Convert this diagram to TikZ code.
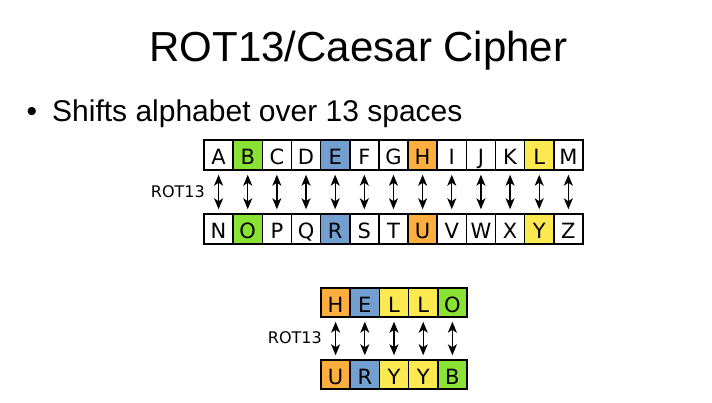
\documentclass[tikz,border=0pt]{standalone}
\usepackage{fontspec}
\setmainfont{Liberation Sans}
\newfontfamily\boxfont{DejaVu Sans}
\usetikzlibrary{arrows.meta}
\definecolor{tgreen}{HTML}{8AE234}
\definecolor{tblue}{HTML}{729FCF}
\definecolor{torange}{HTML}{FCAF3E}
\definecolor{tyellow}{HTML}{FCE94F}
\tikzset{
  cell/.style={draw=black, line width=1.5pt, minimum width=29.15pt, minimum height=30pt,
    inner sep=0pt, text height=20pt, text depth=0pt, font=\boxfont\fontsize{21}{21}\selectfont},
  swap/.style={{Stealth[length=11pt,width=9pt,inset=3pt]}-{Stealth[length=11pt,width=9pt,inset=3pt]}, line width=1.3pt, shorten <=4pt, shorten >=4pt},
  rotlabel/.style={font=\boxfont\fontsize{16}{16}\selectfont, inner sep=0pt, anchor=east}
}
\begin{document}
\begin{tikzpicture}[x=1pt,y=-1pt]
\useasboundingbox (0,0) rectangle (712,403);
\node[font=\fontsize{42}{42}\selectfont, anchor=base] (title) at (358.5,62) {ROT13/Caesar Cipher};
\node[font=\fontsize{30}{30}\selectfont, anchor=base west, inner sep=0pt] (bullet) at (52,122) {Shifts alphabet over 13 spaces};
\node[font=\fontsize{30}{30}\selectfont, anchor=base, inner sep=0pt] (dot) at (32,122) {•};
% alphabet rows
\foreach \t/\b/\c [count=\i from 0] in {A/N/white,B/O/tgreen,C/P/white,D/Q/white,E/R/tblue,F/S/white,G/T/white,H/U/torange,I/V/white,J/W/white,K/X/white,L/Y/tyellow,M/Z/white}{
  \node[cell, fill=\c] (t\i) at ({204+29.15*(\i+0.5)},155) {\t};
  \node[cell, fill=\c] (b\i) at ({204+29.15*(\i+0.5)},229) {\b};
}
\foreach \i in {0,...,12}{
  \draw[swap] (t\i.south) -- (b\i.north);
}
\node[rotlabel] (rotA) at (205,192) {ROT13};
% HELLO rows
\foreach \t/\b/\c [count=\i from 0] in {H/U/torange,E/R/tblue,L/Y/tyellow,L/Y/tyellow,O/B/tgreen}{
  \node[cell, fill=\c, minimum height=29pt] (h\i) at ({321+29.2*(\i+0.5)},302.5) {\t};
  \node[cell, fill=\c, minimum height=29pt] (u\i) at ({321+29.2*(\i+0.5)},374.5) {\b};
}
\foreach \i in {0,...,4}{
  \draw[swap] (h\i.south) -- (u\i.north);
}
\node[rotlabel] (rotB) at (322,338) {ROT13};
\end{tikzpicture}
\end{document}
